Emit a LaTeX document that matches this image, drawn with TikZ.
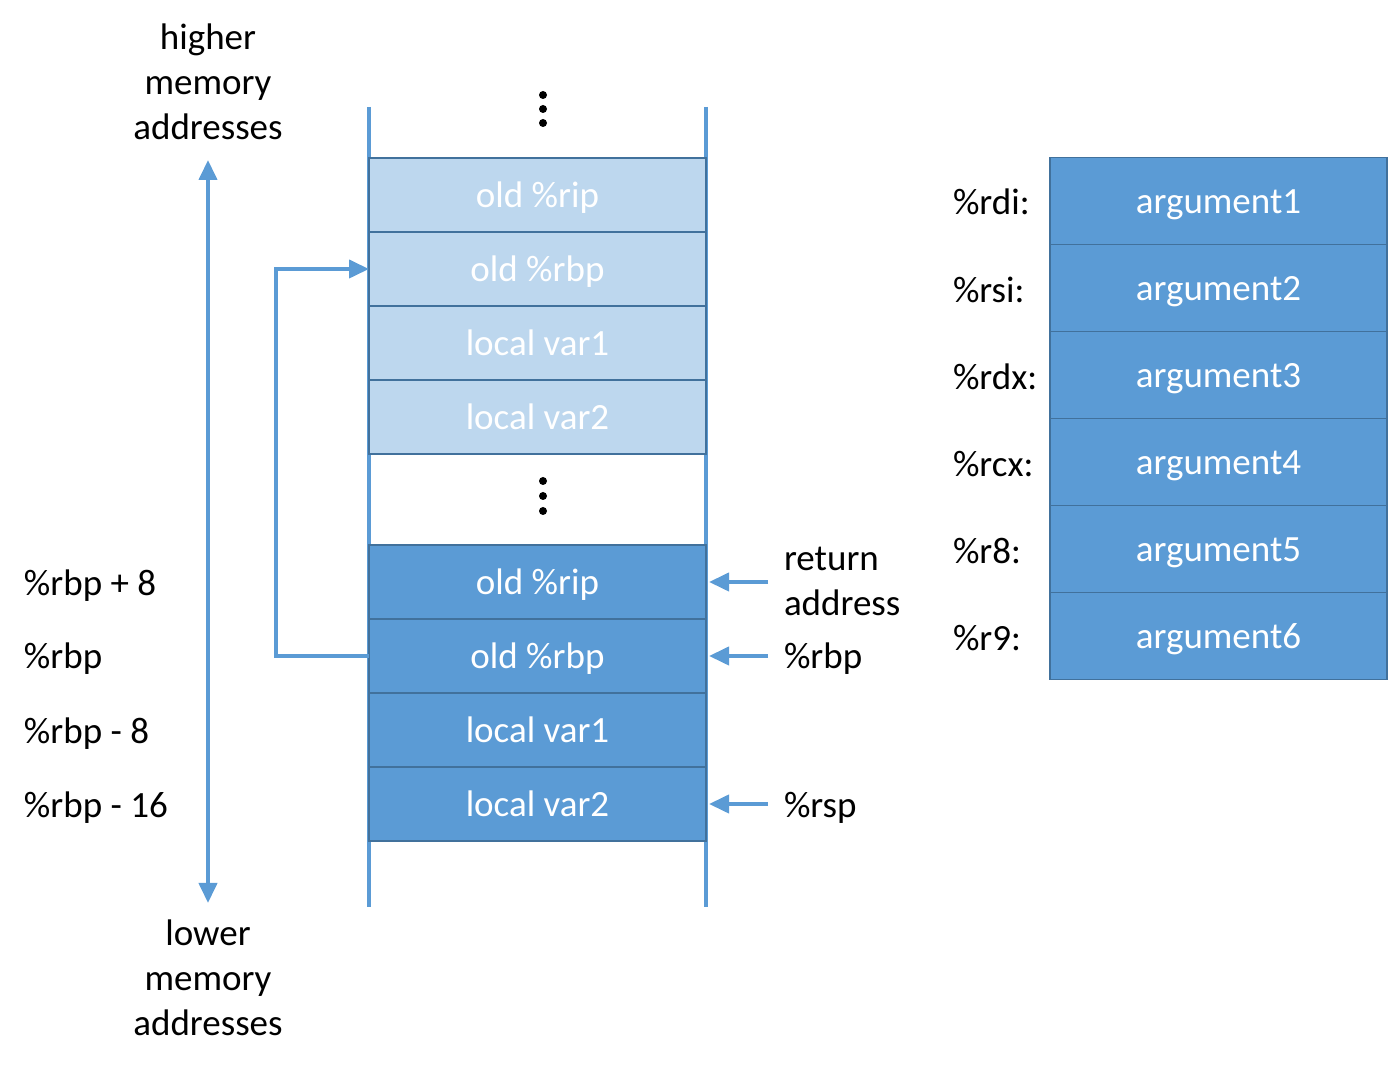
\documentclass[tikz,border=0pt]{standalone}
\usepackage{fontspec}
\setmainfont{Carlito}
\usetikzlibrary{positioning,arrows.meta}
\definecolor{cellblue}{HTML}{5B9BD5}
\definecolor{celllight}{HTML}{BDD7EE}
\definecolor{celledge}{HTML}{41719C}

\begin{document}
\begin{tikzpicture}
[x=0.5pt,y=-0.5pt,
 every node/.style={font=\fontsize{18.5pt}{22.5pt}\selectfont,inner sep=0pt,outer sep=0pt},
 cell/.style={rectangle,draw=celledge,line width=0.8pt,text=white,text height=16pt,text depth=3.4pt,
              minimum width=168.5pt,minimum height=37pt,fill=cellblue},
 old/.style={cell,fill=celllight},
 reg/.style={cell,minimum height=43.5pt},
 lbl/.style={anchor=west,align=left},
 rail/.style={draw=cellblue,line width=2.2pt},
 ptr/.style={draw=cellblue,line width=2pt,-{Triangle[length=10pt,width=9pt]}}]

\useasboundingbox (0,0) rectangle (1388,1068);

% rails
\draw[rail] (369,107) -- (369,907);
\draw[rail] (706,107) -- (706,907);

% caller frame
\node[old] (Urip)                            at (537.5,195) {old \%rip};
\node[old] (Urbp) [on grid,below=37pt of Urip] {old \%rbp};
\node[old] (Uv1)  [on grid,below=37pt of Urbp] {local var1};
\node[old] (Uv2)  [on grid,below=37pt of Uv1]  {local var2};

% current frame
\node[cell] (Lrip)                            at (537.5,582) {old \%rip};
\node[cell] (Lrbp) [on grid,below=37pt of Lrip] {old \%rbp};
\node[cell] (Lv1)  [on grid,below=37pt of Lrbp] {local var1};
\node[cell] (Lv2)  [on grid,below=37pt of Lv1]  {local var2};

% dots
\foreach \y in {95,109,123,481,496,511}
  \fill (543,\y) circle (2pt);

% saved frame pointer
\draw[ptr] (Lrbp.west) -- ++(-93,0) |- (Urbp.west);

% address direction
\node (hiaddr) [align=center] at (208,82)  {higher\\memory\\addresses};
\node (loaddr) [align=center] at (208,978) {lower\\memory\\addresses};
\coordinate (hitip) at (208,160);
\coordinate (lotip) at (208,903);
\draw[ptr,{Triangle[length=10pt,width=9pt]}-{Triangle[length=10pt,width=9pt]}] (lotip) -- (hitip);

% offsets
\node[lbl] (off8)   at (24,586) {\%rbp + 8};
\node[lbl] (off0)   at (24,659) {\%rbp};
\node[lbl] (offm8)  at (24,734) {\%rbp - 8};
\node[lbl] (offm16) at (24,808) {\%rbp - 16};

% pointers
\node[lbl] (retlbl) at (784,581) {return\\address};
\node[lbl] (rbplbl) at (784,659) {\%rbp};
\node[lbl] (rsplbl) at (784,808) {\%rsp};
\draw[ptr,shorten <=8pt,shorten >=1.5pt] (retlbl.west |- Lrip.east) -- (Lrip.east);
\draw[ptr,shorten <=8pt,shorten >=1.5pt] (rbplbl.west |- Lrbp.east) -- (Lrbp.east);
\draw[ptr,shorten <=8pt,shorten >=1.5pt] (rsplbl.west |- Lv2.east) -- (Lv2.east);

% argument registers
\node[reg] (Rdi)                              at (1218.5,201) {argument1};
\node[reg] (Rsi) [on grid,below=43.5pt of Rdi] {argument2};
\node[reg] (Rdx) [on grid,below=43.5pt of Rsi] {argument3};
\node[reg] (Rcx) [on grid,below=43.5pt of Rdx] {argument4};
\node[reg] (R8)  [on grid,below=43.5pt of Rcx] {argument5};
\node[reg] (R9)  [on grid,below=43.5pt of R8]  {argument6};
\node[lbl] (RdiL) at (953,202) {\%rdi:};
\node[lbl] (RsiL) at (953,290) {\%rsi:};
\node[lbl] (RdxL) at (953,377) {\%rdx:};
\node[lbl] (RcxL) at (953,464) {\%rcx:};
\node[lbl] (R8L)  at (953,551) {\%r8:};
\node[lbl] (R9L)  at (953,638) {\%r9:};

\end{tikzpicture}
\end{document}
